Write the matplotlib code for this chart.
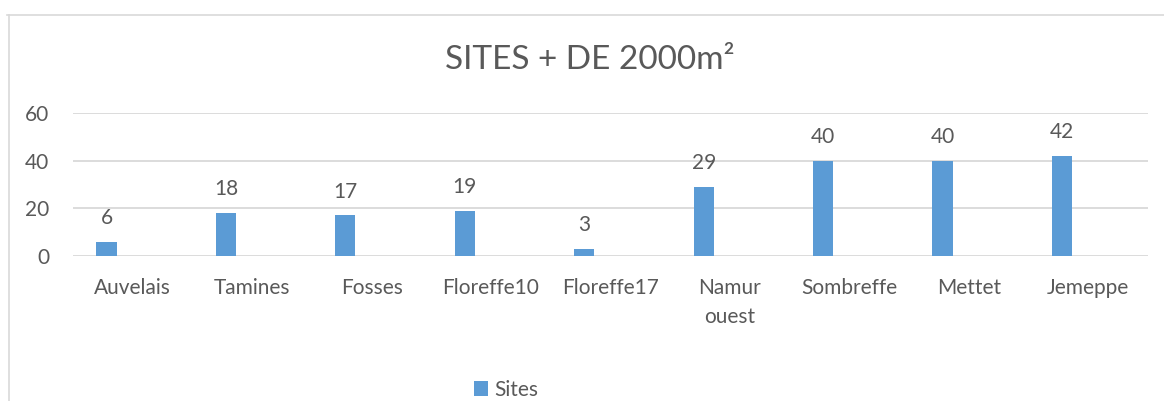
import matplotlib
matplotlib.use('Agg')
import matplotlib.pyplot as plt
from matplotlib.lines import Line2D
from matplotlib.patches import Patch
import numpy as np

# Number of sites above 2000 m² per location
categories = ['Auvelais', 'Tamines', 'Fosses', 'Floreffe10', 'Floreffe17',
              'Namur\nouest', 'Sombreffe', 'Mettet', 'Jemeppe']
sites = [6, 18, 17, 19, 3, 29, 40, 40, 42]
y_ticks = [0, 20, 40, 60]

W, H = 1164, 401
TEXT = '#595959'
GRID = '#d9d9d9'
BAR = '#5b9bd5'
FS = 15

plt.rcParams['font.family'] = ['Lato', 'DejaVu Sans']

fig = plt.figure(figsize=(W / 100, H / 100), dpi=100)
fig.patch.set_facecolor('white')

# axes box in pixel terms: x 73..1148, y 113..256
ax = fig.add_axes([73 / W, 1 - 256 / H, (1148 - 73) / W, (256 - 113) / H])

x = np.arange(len(categories))
bar_w = 0.17
offset = -0.22
ax.bar(x + offset, sites, width=bar_w, color=BAR, zorder=3)

for xi, v in zip(x, sites):
    ax.annotate(str(v), xy=(xi + offset, v), xytext=(0, 17),
                textcoords='offset points', ha='center', va='center',
                fontsize=FS, color=TEXT)

ax.set_xlim(-0.5, len(categories) - 0.5)
ax.set_ylim(0, 60)
ax.set_yticks(y_ticks)
ax.set_xticks(x)
ax.set_xticklabels(categories, linespacing=1.55)
ax.tick_params(axis='both', length=0, labelsize=FS, labelcolor=TEXT)
ax.tick_params(axis='y', pad=17)
ax.tick_params(axis='x', pad=16)

ax.grid(axis='y', color=GRID, linewidth=1.3, zorder=0)
for s in ax.spines.values():
    s.set_visible(False)

fig.text(590 / W, 1 - 60 / H, 'SITES + DE 2000m²', ha='center', va='center',
         fontsize=24, color=TEXT)

# chart frame (left and top edges)
fig.add_artist(Line2D([9 / W, 9 / W], [1 - 15 / H, 0], color=GRID,
                      linewidth=1.2, transform=fig.transFigure))
fig.add_artist(Line2D([7 / W, 1], [1 - 15 / H, 1 - 15 / H], color=GRID,
                      linewidth=1.2, transform=fig.transFigure))

fig.legend(handles=[Patch(facecolor=BAR, label='Sites')],
           loc='center', bbox_to_anchor=(506 / W, 1 - 390 / H),
           frameon=False, fontsize=FS, labelcolor=TEXT,
           handlelength=0.7, handleheight=0.7, handletextpad=0.3)

fig.savefig('out.png', dpi=100, facecolor='white')
